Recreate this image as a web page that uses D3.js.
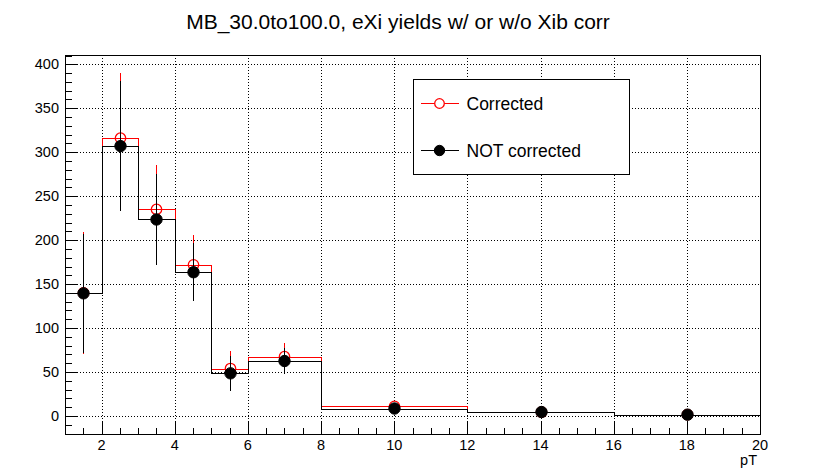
<!DOCTYPE html>
<html>
<head>
<meta charset="utf-8">
<script src="https://cdn.jsdelivr.net/npm/d3@7"></script>
<style>
  body { margin: 0; background: #fff; }
  svg { font-family: "Liberation Sans", Arial, Helvetica, sans-serif; }
</style>
</head>
<body>
<div id="chart"></div>
<script>
// bin edges in pT
const binEdges = [1, 2, 3, 4, 5, 6, 8, 12, 16, 20];
// yields
const corrected      = [140, 316, 235, 172, 54, 67.5, 11, 4.5, 1.5];
const correctedErr   = [69, 74, 51, 34, 20, 15, 3, 2, 1];
const notCorrected   = [139.5, 307, 223.5, 163.5, 48.5, 62.5, 8.5, 4.5, 1.5];
const notCorrectedErr = [68, 74, 52, 33, 20, 15, 3, 2, 1];
const xTicks = [2, 4, 6, 8, 10, 12, 14, 16, 18, 20];
const yTicks = [0, 50, 100, 150, 200, 250, 300, 350, 400];
const seriesNames = ["Corrected", "NOT corrected"];

const W = 837, H = 476;
const frame = {left: 65, right: 760, top: 55, bottom: 434};

const svg = d3.select("#chart").append("svg")
    .attr("width", W)
    .attr("height", H);

const x = d3.scaleLinear().domain([1, 20]).range([frame.left, frame.right]);
const y = d3.scaleLinear().domain([-20.5, 410.6]).range([frame.bottom, frame.top]);

const px = v => Math.round(v) + 0.5;

// title
svg.append("text")
    .attr("x", 398)
    .attr("y", 29)
    .attr("text-anchor", "middle")
    .style("font-size", "21px")
    .text("MB_30.0to100.0, eXi yields w/ or w/o Xib corr");

// grid
const grid = svg.append("g")
    .attr("stroke", "#000")
    .attr("stroke-width", 1)
    .attr("stroke-dasharray", "1,2")
    .attr("shape-rendering", "crispEdges");
grid.selectAll(".gx").data(xTicks.filter(d => d < 20)).join("line")
    .attr("x1", d => px(x(d))).attr("x2", d => px(x(d)))
    .attr("y1", frame.top).attr("y2", frame.bottom);
grid.selectAll(".gy").data(yTicks).join("line")
    .attr("y1", d => px(y(d))).attr("y2", d => px(y(d)))
    .attr("x1", frame.left).attr("x2", frame.right);

// axes ticks (inside the frame, ROOT style)
const ticks = svg.append("g")
    .attr("stroke", "#000")
    .attr("shape-rendering", "crispEdges");
const yMinor = d3.range(-20, 411, 10);
ticks.selectAll(".ty").data(yMinor).join("line")
    .attr("x1", frame.left)
    .attr("x2", d => frame.left + (d % 50 === 0 ? 13 : 7))
    .attr("y1", d => px(y(d))).attr("y2", d => px(y(d)));
const xMinor = d3.range(1.5, 20, 0.5);
ticks.selectAll(".tx").data(xMinor).join("line")
    .attr("x1", d => px(x(d))).attr("x2", d => px(x(d)))
    .attr("y1", frame.bottom)
    .attr("y2", d => frame.bottom - (d % 2 === 0 ? 12 : 6));

// tick labels
svg.append("g").selectAll("text").data(yTicks).join("text")
    .attr("x", 59)
    .attr("y", d => y(d))
    .attr("dy", "0.35em")
    .attr("text-anchor", "end")
    .style("font-size", "14.5px")
    .text(d => d);
svg.append("g").selectAll("text").data(xTicks).join("text")
    .attr("x", d => x(d))
    .attr("y", 450)
    .attr("text-anchor", "middle")
    .style("font-size", "14.5px")
    .text(d => d);
svg.append("text")
    .attr("x", 757)
    .attr("y", 465)
    .attr("text-anchor", "end")
    .style("font-size", "14.5px")
    .text("pT");

// histogram step path
function stepPath(vals) {
    let d = `M${px(x(binEdges[0]))},${frame.bottom}`;
    vals.forEach((v, i) => {
        d += `L${px(x(binEdges[i]))},${px(y(v))}L${px(x(binEdges[i + 1]))},${px(y(v))}`;
    });
    d += `L${px(x(binEdges[binEdges.length - 1]))},${frame.bottom}`;
    return d;
}

const centers = binEdges.slice(0, -1).map((e, i) => (e + binEdges[i + 1]) / 2);

function drawSeries(vals, errs, color, filled) {
    const g = svg.append("g");
    g.append("path")
        .attr("d", stepPath(vals))
        .attr("fill", "none")
        .attr("stroke", color)
        .attr("stroke-width", 1)
        .attr("shape-rendering", "crispEdges");
    g.selectAll(".err").data(vals).join("line")
        .attr("x1", (d, i) => px(x(centers[i])))
        .attr("x2", (d, i) => px(x(centers[i])))
        .attr("y1", (d, i) => y(d + errs[i]))
        .attr("y2", (d, i) => y(d - errs[i]))
        .attr("stroke", color)
        .attr("stroke-width", 1)
        .attr("shape-rendering", "crispEdges");
    g.selectAll("circle").data(vals).join("circle")
        .attr("cx", (d, i) => px(x(centers[i])))
        .attr("cy", d => y(d))
        .attr("r", filled ? 5.7 : 5.2)
        .attr("fill", filled ? color : "none")
        .attr("stroke", color)
        .attr("stroke-width", filled ? 1 : 1.3);
}

drawSeries(corrected, correctedErr, "#ff0000", false);
drawSeries(notCorrected, notCorrectedErr, "#000000", true);

// frame
svg.append("rect")
    .attr("x", frame.left + 0.5).attr("y", frame.top + 0.5)
    .attr("width", frame.right - frame.left)
    .attr("height", frame.bottom - frame.top)
    .attr("fill", "none")
    .attr("stroke", "#000")
    .attr("shape-rendering", "crispEdges");

// legend
const legend = svg.append("g");
legend.append("rect")
    .attr("x", 413.5).attr("y", 79.5)
    .attr("width", 216).attr("height", 95)
    .attr("fill", "#fff")
    .attr("stroke", "#000")
    .attr("shape-rendering", "crispEdges");
const legendItems = [
    {name: seriesNames[0], color: "#ff0000", filled: false, cy: 103},
    {name: seriesNames[1], color: "#000000", filled: true, cy: 150}
];
legendItems.forEach(it => {
    legend.append("line")
        .attr("x1", 421).attr("x2", 459)
        .attr("y1", it.cy + 0.5).attr("y2", it.cy + 0.5)
        .attr("stroke", it.color)
        .attr("shape-rendering", "crispEdges");
    legend.append("circle")
        .attr("cx", 439.5).attr("cy", it.cy + 0.5)
        .attr("r", it.filled ? 5.2 : 4.8)
        .attr("fill", it.filled ? it.color : "#fff")
        .attr("stroke", it.color)
        .attr("stroke-width", it.filled ? 1 : 1.3);
    legend.append("text")
        .attr("x", 466.5)
        .attr("y", it.cy + 6.5)
        .style("font-size", "17.5px")
        .text(it.name);
});
</script>
</body>
</html>
